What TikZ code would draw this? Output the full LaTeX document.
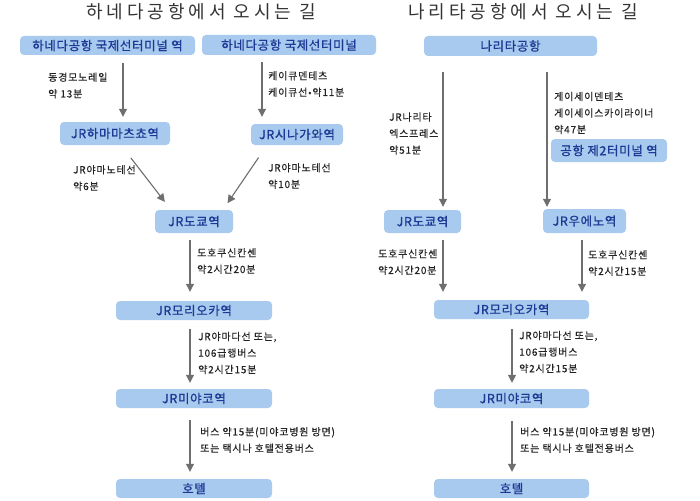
\documentclass[tikz,border=0pt]{standalone}
\usepackage{fontspec}
\setmainfont{Noto Sans CJK KR}[LetterSpace=8, FakeBold=0.3]
\newfontfamily\titlefont{Noto Sans CJK KR}[LetterSpace=22]
\newfontfamily\stnfont{Noto Sans CJK KR}[LetterSpace=5, FakeBold=0.9]
\usepackage{xcolor}
\usetikzlibrary{arrows.meta}
\definecolor{boxblue}{HTML}{A8CAEF}
\definecolor{stntext}{HTML}{1C3A94}
\definecolor{arrgray}{HTML}{6F6F6F}
\definecolor{labtext}{HTML}{222222}
\definecolor{titletext}{HTML}{333333}

\begin{document}
\begin{tikzpicture}[x=1pt, y=-1pt,
    stn/.style={fill=boxblue, rounded corners=4pt, text=stntext, inner sep=0pt,
        font=\stnfont\fontsize{12.5}{13}\selectfont},
    lab/.style={anchor=west, inner sep=0pt, align=left, text=labtext,
        font=\fontsize{10}{16.5}\selectfont},
    arr/.style={-{Triangle[width=8pt,length=8pt]}, draw=arrgray, fill=arrgray, line width=1.1pt},
    ttl/.style={text=titletext, font=\titlefont\fontsize{18}{20}\selectfont}]
    \useasboundingbox (0,0) rectangle (700,500);

    % titles
    \node[ttl] (ttlH) at (201,12) {하네다공항에서 오시는 길};
    \node[ttl] (ttlN) at (523,12) {나리타공항에서 오시는 길};

    % Haneda route
    \node[stn, minimum width=175pt, minimum height=19pt] (hnd1) at (107.5,45.5) {하네다공항 국제선터미널 역};
    \node[stn, minimum width=174pt, minimum height=20pt] (hnd2) at (289,45) {하네다공항 국제선터미널};
    \node[stn, minimum width=110pt, minimum height=23pt] (hmm) at (115,133.5) {JR하마마츠쵸역};
    \node[stn, minimum width=92pt, minimum height=21pt] (shin) at (297,134.5) {JR시나가와역};
    \node[stn, minimum width=78pt, minimum height=23pt] (tokL) at (194,221.5) {JR도쿄역};
    \node[stn, minimum width=156pt, minimum height=19pt] (morL) at (194,310.5) {JR모리오카역};
    \node[stn, minimum width=156pt, minimum height=19pt] (miyL) at (194,398.5) {JR미야코역};
    \node[stn, minimum width=156pt, minimum height=19pt] (hotL) at (194,488.5) {호텔};

    % Narita route
    \node[stn, minimum width=173pt, minimum height=20pt] (nrt) at (510.5,46) {나리타공항};
    \node[stn, minimum width=116pt, minimum height=23pt] (t2) at (609,150.5) {공항 제2터미널 역};
    \node[stn, minimum width=77pt, minimum height=23pt] (tokR) at (422.5,221.5) {JR도쿄역};
    \node[stn, minimum width=83pt, minimum height=24pt] (ueno) at (584.5,221) {JR우에노역};
    \node[stn, minimum width=155pt, minimum height=19pt] (morR) at (511.5,309.5) {JR모리오카역};
    \node[stn, minimum width=155pt, minimum height=19pt] (miyR) at (511.5,398.5) {JR미야코역};
    \node[stn, minimum width=155pt, minimum height=19pt] (hotR) at (511.5,488.5) {호텔};

    % arrow columns
    \coordinate (cA) at (123,0);
    \coordinate (cB) at (262,0);
    \coordinate (cC) at (190,0);
    \coordinate (cD) at (443,0);
    \coordinate (cE) at (547,0);
    \coordinate (cF) at (582,0);
    \coordinate (cG) at (512,0);

    \draw[arr, shorten <=8pt, shorten >=5pt] (hnd1.south -| cA) -- (hmm.north -| cA);
    \draw[arr, shorten <=7pt, shorten >=7pt] (hnd2.south -| cB) -- (shin.north -| cB);
    \draw[arr, shorten <=16pt, shorten >=10pt] ([xshift=6pt]hmm.south) -- ([xshift=-23pt]tokL.north);
    \draw[arr, shorten <=15pt, shorten >=8pt] ([xshift=-30pt]shin.south) -- ([xshift=29pt]tokL.north);
    \draw[arr, shorten <=7pt, shorten >=9pt] (tokL.south -| cC) -- (morL.north -| cC);
    \draw[arr, shorten <=9pt, shorten >=6pt] (morL.south -| cC) -- (miyL.north -| cC);
    \draw[arr, shorten <=12pt, shorten >=7pt] (miyL.south -| cC) -- (hotL.north -| cC);

    \draw[arr, shorten <=16pt, shorten >=3pt] (nrt.south -| cD) -- (tokR.north -| cD);
    \draw[arr, shorten <=16pt, shorten >=2pt] (nrt.south -| cE) -- (ueno.north -| cE);
    \draw[arr, shorten <=7pt, shorten >=8pt] (tokR.south -| cD) -- (morR.north -| cD);
    \draw[arr, shorten <=7pt, shorten >=8pt] (ueno.south -| cF) -- (morR.north -| cF);
    \draw[arr, shorten <=10pt, shorten >=6pt] (morR.south -| cG) -- (miyR.north -| cG);
    \draw[arr, shorten <=13pt, shorten >=7pt] (miyR.south -| cG) -- (hotR.north -| cG);

    % route labels
    \node[lab] (labA) at (48,85.5) {동경모노레일\\약 13분};
    \node[lab] (labB) at (268,84) {케이큐덴테츠\\케이큐선•약11분};
    \node[lab] (labC) at (73,178) {JR야마노테선\\약6분};
    \node[lab] (labD) at (268,176) {JR야마노테선\\약10분};
    \node[lab] (labE) at (197,261) {도호쿠신칸센\\약2시간20분};
    \node[lab] (labF) at (198,353) {JR야마다선 또는,\\106급행버스\\약2시간15분};
    \node[lab] (labG) at (200,440) {버스 약15분(미야코병원 방면)\\또는 택시나 호텔전용버스};

    \node[lab] (labH) at (389,133.5) {JR나리타\\엑스프레스\\약51분};
    \node[lab] (labI) at (554,113) {게이세이덴테츠\\게이세이스카이라이너\\약47분};
    \node[lab] (labJ) at (378,262) {도호쿠신칸센\\약2시간20분};
    \node[lab] (labK) at (588,263) {도호쿠신칸센\\약2시간15분};
    \node[lab] (labL) at (519,352) {JR야마다선 또는,\\106급행버스\\약2시간15분};
    \node[lab] (labM) at (520,440) {버스 약15분(미야코병원 방면)\\또는 택시나 호텔전용버스};

\end{tikzpicture}
\end{document}
